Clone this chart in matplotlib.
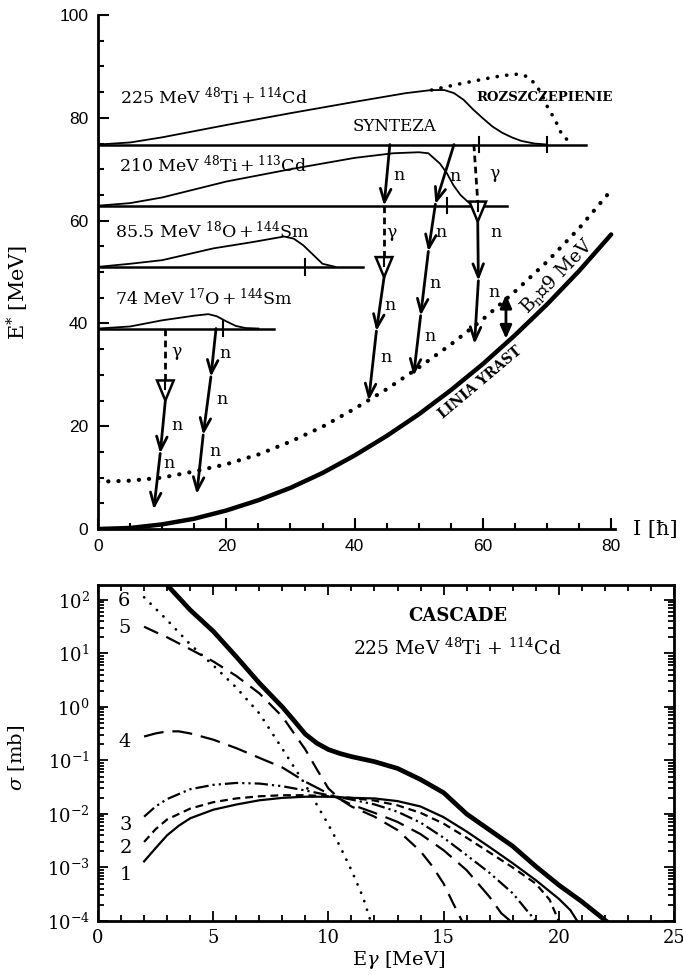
import matplotlib
matplotlib.use("Agg")
import matplotlib.pyplot as plt
from matplotlib.patches import Polygon
from matplotlib.ticker import MultipleLocator, LogLocator, NullFormatter

plt.rcParams['font.family'] = ['DejaVu Serif']
plt.rcParams['mathtext.fontset'] = 'dejavuserif'

# ---------------- upper panel: E* versus angular momentum I ----------------
spin_grid = [0, 5, 10, 15, 20, 25, 30, 35, 40, 45, 50, 55, 60, 65, 70, 75, 80]
yrast_E = [0, 0.2, 0.9, 2.0, 3.6, 5.6, 8.0, 10.9, 14.3, 18.1, 22.3, 27.0,
           32.1, 37.7, 43.7, 50.2, 57.3]
yrast_bn_E = [9.2, 9.4, 10.0, 11.2, 12.6, 14.5, 17.0, 19.9, 23.4, 27.2, 31.4,
              35.9, 40.8, 46.2, 52.0, 58.5, 65.9]

# entry distributions for the four reactions
ti114_I = [0, 5, 10, 20, 30, 40, 48, 52, 54, 55.5, 57, 58.5, 60, 61.5, 63, 64.5, 66, 68, 70]
ti114_E = [74.8, 75.2, 76.2, 78.6, 80.9, 83.1, 84.8, 85.4, 85.4, 84.8, 83.5, 81.6,
           79.9, 78.3, 77.1, 76.2, 75.5, 75.0, 74.8]
fission_I = [52, 56, 60, 63, 65.5, 67, 68.3, 69.2, 70, 71.3, 72.4, 73.7]
fission_E = [85.4, 86.5, 87.5, 88.2, 88.5, 88.0, 86.4, 84.5, 82.3, 79.5, 76.5, 75.2]

ti113_I = [0, 5, 10, 20, 30, 40, 46, 50, 51.5, 53.3, 54.4, 55.4, 56.5, 57.8, 59.1]
ti113_E = [62.9, 63.4, 64.5, 67.6, 70.0, 72.2, 73.1, 73.3, 73.1, 71.1, 69.2, 66.9,
           65.0, 63.5, 62.9]

o18_I = [0, 5, 10, 18, 24, 29, 30.5, 32, 33.5, 35, 37]
o18_E = [51.0, 51.6, 52.3, 54.6, 55.8, 56.9, 56.5, 55.2, 53.4, 51.6, 51.0]

o17_I = [0, 5, 10, 15, 17.2, 18.5, 20, 21.5, 23, 25]
o17_E = [39.0, 39.4, 40.6, 41.5, 41.8, 41.4, 40.4, 39.5, 39.1, 39.0]

# horizontal entry lines: energy, right end, l_max markers
entry_E = [74.8, 62.9, 51.0, 39.0]
entry_end = [76.1, 63.7, 41.3, 27.5]
entry_lmax = [[59.4, 70.0], [54.4], [32.3], [19.5]]

reaction_labels = [r"225 MeV $^{48}$Ti$\,$+$\,^{114}$Cd",
                   r"210 MeV $^{48}$Ti$\,$+$\,^{113}$Cd",
                   r"85.5 MeV $^{18}$O$\,$+$\,^{144}$Sm",
                   r"74 MeV $^{17}$O$\,$+$\,^{144}$Sm"]
reaction_label_pos = [(3.4, 84.0), (3.3, 70.8), (2.7, 57.8), (2.7, 44.9)]

# decay chains: start point, then (kind, I, E) steps; gamma steps end at the triangle tip
chains = [
    [(10.5, 39.0), ('g', 10.5, 25.0), ('n', 9.7, 14.7), ('n', 8.7, 3.8)],
    [(18.4, 39.0), ('n', 17.6, 29.6), ('n', 16.4, 18.3), ('n', 15.4, 6.8)],
    [(45.5, 74.8), ('n', 44.6, 62.9), ('g', 44.6, 49.0), ('n', 43.4, 38.5), ('n', 42.2, 25.0)],
    [(55.5, 74.8), ('n', 52.6, 63.2), ('n', 51.5, 54.0), ('n', 50.3, 41.5), ('n', 49.2, 29.8)],
    [(58.6, 74.8), ('g', 59.2, 59.8), ('n', 59.3, 48.3), ('n', 58.7, 36.0)],
]
chain_labels = [
    ('γ', 12.3, 34.5), ('n', 12.3, 20.2), ('n', 11.0, 12.8),
    ('n', 19.8, 34.2), ('n', 19.3, 25.1), ('n', 18.3, 15.0),
    ('n', 47.0, 68.8), ('γ', 45.8, 57.7), ('n', 45.6, 43.5), ('n', 44.9, 33.4),
    ('n', 55.7, 68.5), ('n', 53.5, 57.7), ('n', 52.5, 47.8), ('n', 51.7, 37.4),
    ('γ', 61.8, 69.1), ('n', 62.0, 57.7), ('n', 61.7, 46.0),
]
bn_arrow_I = 63.6
bn_arrow_E = (45.6, 37.0)

# ---------------- lower panel: CASCADE gamma spectra ----------------
tot_E = [2.8, 3, 4, 5, 6, 7, 8, 8.5, 9, 9.5, 10, 10.5, 11, 12, 13, 14, 15, 16, 17, 18,
         19, 20, 21, 22.05]
tot_s = [260, 190, 65, 26, 8.7, 2.8, 1.0, 0.56, 0.31, 0.21, 0.16, 0.135, 0.118, 0.095,
         0.071, 0.044, 0.025, 0.010, 0.0050, 0.0025, 0.00105, 4.7e-4, 2.3e-4, 1.0e-4]

c1_E = [2, 2.5, 3, 3.5, 4, 5, 6, 7, 8, 9, 10, 11, 12, 13, 14, 15, 16, 17, 18, 19, 20, 20.5, 20.8]
c1_s = [1.3e-3, 2.3e-3, 4.0e-3, 6.0e-3, 8.3e-3, 0.012, 0.015, 0.018, 0.020, 0.021, 0.021,
        0.020, 0.0195, 0.0174, 0.0138, 0.0087, 0.0047, 0.0024, 0.0012, 5.8e-4, 2.6e-4,
        1.6e-4, 1.0e-4]
c2_E = [2, 2.5, 3, 4, 5, 6, 7, 8, 9, 10, 11, 12, 13, 14, 15, 16, 17, 18, 19, 19.6, 20]
c2_s = [3.0e-3, 5.2e-3, 7.9e-3, 0.0126, 0.0166, 0.0195, 0.0214, 0.0224, 0.0224, 0.0214,
        0.020, 0.0178, 0.0145, 0.0105, 0.0066, 0.0036, 0.0019, 1.0e-3, 5.0e-4, 2.5e-4, 1.0e-4]
c3_E = [2, 2.5, 3, 4, 5, 6, 7, 8, 9, 10, 11, 12, 13, 14, 15, 16, 17, 18, 18.6, 19]
c3_s = [8.9e-3, 0.0138, 0.019, 0.029, 0.035, 0.038, 0.037, 0.033, 0.0275, 0.0224, 0.0186,
        0.0151, 0.011, 0.0069, 0.0036, 0.0017, 7.9e-4, 3.3e-4, 1.6e-4, 1.0e-4]
c4_E = [2, 2.5, 3, 3.5, 4, 5, 6, 7, 8, 9, 10, 11, 12, 13, 14, 15, 16, 17, 17.5, 17.9]
c4_s = [0.28, 0.32, 0.35, 0.35, 0.32, 0.245, 0.17, 0.112, 0.074, 0.040, 0.024, 0.015,
        0.0105, 0.0071, 0.0042, 0.0021, 8.9e-4, 2.8e-4, 1.4e-4, 1.0e-4]
c5_E = [2, 2.5, 3, 4, 5, 6, 7, 8, 9, 9.5, 10, 10.5, 11, 12, 13, 14, 14.5, 15, 15.4, 15.8]
c5_s = [31.6, 25, 20, 12, 7.1, 3.8, 1.8, 0.66, 0.16, 0.068, 0.030, 0.019, 0.0138, 0.0089,
        0.0050, 0.0020, 1.07e-3, 5.0e-4, 2.2e-4, 1.0e-4]
c6_E = [2, 3, 4, 5, 6, 7, 8, 9, 10, 10.5, 11, 11.5, 11.8]
c6_s = [112, 42, 14.8, 6.0, 2.3, 0.76, 0.166, 0.035, 6.3e-3, 2.5e-3, 8.9e-4, 2.8e-4, 1.1e-4]

curve_numbers = ['6', '5', '4', '3', '2', '1']
curve_number_pos = [(1.14, 95), (1.14, 30), (1.14, 0.22), (1.2, 6.3e-3), (1.2, 2.3e-3), (1.2, 7.2e-4)]

W, H = 683, 975
fig = plt.figure(figsize=(W / 100, H / 100), dpi=100)

# ---------- upper axes ----------
ax1 = fig.add_axes([98 / W, 1 - 529 / H, 517 / W, 514 / H])
ax1.set_xlim(0, 80.6)
ax1.set_ylim(0, 100)
for s in ('top', 'right'):
    ax1.spines[s].set_visible(False)
for s in ('left', 'bottom'):
    ax1.spines[s].set_linewidth(2)
ax1.xaxis.set_major_locator(MultipleLocator(20))
ax1.xaxis.set_minor_locator(MultipleLocator(5))
ax1.yaxis.set_major_locator(MultipleLocator(20))
ax1.yaxis.set_minor_locator(MultipleLocator(5))
ax1.tick_params(which='both', direction='in', width=1.5)
ax1.tick_params(which='major', length=8, labelsize=12.5, pad=7)
ax1.tick_params(which='minor', length=4)
for lab in ax1.get_xticklabels() + ax1.get_yticklabels():
    lab.set_family('Liberation Sans')

ax1.plot(spin_grid, yrast_E, color='k', lw=3.2, solid_capstyle='round')
ax1.plot(spin_grid, yrast_bn_E, color='k', lw=3.0, linestyle=(0, (0.05, 2.4)),
         dash_capstyle='round')

for I, E in [(ti114_I, ti114_E), (ti113_I, ti113_E), (o18_I, o18_E), (o17_I, o17_E)]:
    ax1.plot(I, E, color='k', lw=1.3)
ax1.plot(fission_I, fission_E, color='k', lw=2.6, linestyle=(0, (0.05, 2.6)),
         dash_capstyle='round')

for E0, end, marks in zip(entry_E, entry_end, entry_lmax):
    ax1.plot([0, end], [E0, E0], color='k', lw=1.8)
    for m in marks:
        ax1.plot([m, m], [E0 - 1.5, E0 + 1.5], color='k', lw=1.5)

for txt, (x, y) in zip(reaction_labels, reaction_label_pos):
    ax1.text(x, y, txt, fontsize=12.5, ha='left', va='center')

ax1.text(46.3, 78.4, 'SYNTEZA', fontsize=12, ha='center', va='center')
ax1.text(69.6, 84.0, 'ROZSZCZEPIENIE', fontsize=9.5, fontweight='bold',
         ha='center', va='center')

tri_w, tri_h = 2.6, 3.9
for chain in chains:
    x0, y0 = chain[0]
    for kind, x1, y1 in chain[1:]:
        if kind == 'n':
            ax1.annotate('', xy=(x1, y1), xytext=(x0, y0),
                         arrowprops=dict(arrowstyle='->,head_length=0.95,head_width=0.38',
                                         lw=2, color='k', shrinkA=0, shrinkB=0))
        else:
            top = y1 + tri_h
            ax1.plot([x0, x1], [y0, top], color='k', lw=2, linestyle=(0, (2.4, 1.6)))
            ax1.add_patch(Polygon([(x1 - tri_w / 2, top), (x1 + tri_w / 2, top), (x1, y1)],
                                  closed=True, facecolor='white', edgecolor='k', lw=1.8,
                                  zorder=3))
            ax1.plot([x1, x1], [top, top - tri_h * 0.45], color='k', lw=1.5, zorder=4)
        x0, y0 = x1, y1

for txt, x, y in chain_labels:
    ax1.text(x, y, txt, fontsize=12.5, ha='center', va='center')

ax1.annotate('', xy=(bn_arrow_I, bn_arrow_E[1]), xytext=(bn_arrow_I, bn_arrow_E[0]),
             arrowprops=dict(arrowstyle='<|-|>,head_length=0.8,head_width=0.35',
                             lw=2, color='k', shrinkA=0, shrinkB=0))
ax1.text(71.5, 49.2, r'B$_{\rm n}$≅9 MeV', fontsize=13.5, rotation=46,
         ha='center', va='center', rotation_mode='anchor')
ax1.text(59.6, 28.5, 'LINIA YRAST', fontsize=10, fontweight='bold', rotation=40,
         ha='center', va='center', rotation_mode='anchor')

ax1.text(86.9, 0, 'I [ħ]', fontsize=15, ha='center', va='center', clip_on=False)
fig.text(18 / W, 1 - 292 / H, r'E$^{*}$ [MeV]', fontsize=15, rotation=90,
         ha='center', va='center')

# ---------- lower axes ----------
ax2 = fig.add_axes([98 / W, 1 - 921 / H, 576 / W, 336 / H])
ax2.set_yscale('log')
ax2.set_xlim(0, 25)
ax2.set_ylim(1e-4, 190)
for s in ax2.spines.values():
    s.set_linewidth(2)
ax2.xaxis.set_major_locator(MultipleLocator(5))
ax2.xaxis.set_minor_locator(MultipleLocator(1))
ax2.yaxis.set_major_locator(LogLocator(base=10, numticks=10))
ax2.yaxis.set_minor_locator(LogLocator(base=10, subs=range(2, 10), numticks=20))
ax2.yaxis.set_minor_formatter(NullFormatter())
ax2.tick_params(which='both', direction='in', width=1.3, top=True, right=True)
ax2.tick_params(which='major', length=7, labelsize=13, pad=6)
ax2.tick_params(which='minor', length=4)

ax2.plot(tot_E, tot_s, color='k', lw=3.4)
ax2.plot(c1_E, c1_s, color='k', lw=1.6)
ax2.plot(c2_E, c2_s, color='k', lw=1.6, linestyle=(0, (3.5, 2.2)))
ax2.plot(c3_E, c3_s, color='k', lw=1.6, linestyle=(0, (6, 1.8, 1, 1.8, 1, 1.8)))
ax2.plot(c4_E, c4_s, color='k', lw=1.6, linestyle=(0, (9, 4)))
ax2.plot(c5_E, c5_s, color='k', lw=1.6, linestyle=(0, (7, 4)))
ax2.plot(c6_E, c6_s, color='k', lw=2.0, linestyle=(0, (0.05, 3.2)), dash_capstyle='round')

for txt, (x, y) in zip(curve_numbers, curve_number_pos):
    ax2.text(x, y, txt, fontsize=14, ha='center', va='center')

ax2.text(15.6, 50, 'CASCADE', fontsize=13, fontweight='bold', ha='center', va='center')
ax2.text(15.6, 12.5, r"225 MeV $^{48}$Ti + $^{114}$Cd", fontsize=13.5,
         ha='center', va='center')

fig.text(399 / W, 1 - 960 / H, r'E$\gamma$ [MeV]', fontsize=14, ha='center', va='center')
fig.text(17 / W, 1 - 758 / H, r'$\sigma$ [mb]', fontsize=14, rotation=90,
         ha='center', va='center')

fig.savefig('out.png', dpi=100, facecolor='white')
